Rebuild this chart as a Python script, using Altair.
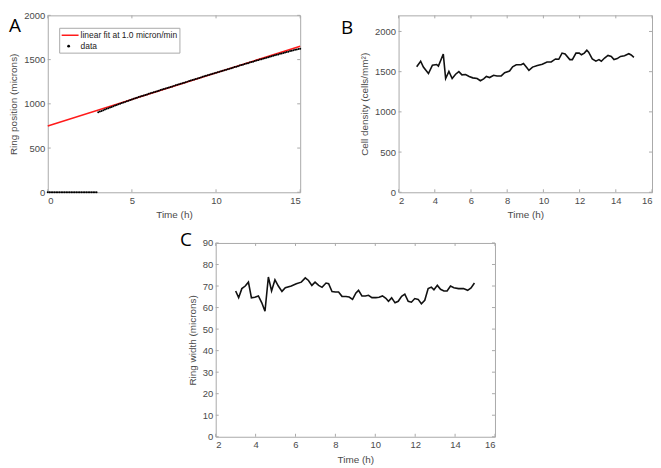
import altair as alt
import pandas as pd

FONT = "Liberation Sans"
TXT = "#4a4a4a"
BOX = "#a9a9a9"

# ---------------- Panel A : ring position ----------------
fit_time = [0, 15]
fit_pos = [750, 1650]
fit_label = "linear fit at 1.0 micron/min"
data_label = "data"

a_time = [round(0.1 * i, 1) for i in range(151)]  # sampling grid 0.0 .. 15.0 h
a_pos = [0] * 30 + [
    905, 913, 920, 928, 935, 943, 950, 958, 965, 973,
    980, 987, 994, 1001, 1008, 1015, 1022, 1029, 1036, 1043,
    1050, 1058, 1063, 1070, 1076, 1082, 1088, 1094, 1101, 1106,
    1113, 1119, 1124, 1131, 1137, 1143, 1149, 1155, 1161, 1167,
    1173, 1179, 1185, 1191, 1197, 1203, 1209, 1215, 1221, 1227,
    1233, 1239, 1245, 1251, 1257, 1263, 1269, 1275, 1281, 1287,
    1293, 1299, 1305, 1311, 1317, 1322, 1328, 1334, 1340, 1346,
    1351, 1357, 1363, 1368, 1374, 1380, 1386, 1391, 1397, 1403,
    1409, 1415, 1420, 1426, 1432, 1438, 1443, 1449, 1455, 1460,
    1466, 1472, 1477, 1483, 1489, 1494, 1500, 1505, 1511, 1516,
    1522, 1527, 1533, 1538, 1543, 1549, 1554, 1559, 1565, 1570,
    1575, 1580, 1585, 1590, 1596, 1601, 1606, 1611, 1615, 1620,
    1624,
]
a_xticks = [0, 5, 10, 15]
a_yticks = [0, 500, 1000, 1500, 2000]

# ---------------- Panel B : cell density ----------------
b_time = [3.0, 3.22, 3.37, 3.65, 3.87, 4.1, 4.2, 4.47, 4.6, 4.78, 4.96, 5.15, 5.33,
          5.5, 5.7, 5.9, 6.1, 6.34, 6.52, 6.7, 6.85, 7.03, 7.25, 7.44, 7.67, 7.86,
          8.13, 8.3, 8.5, 8.77, 8.9, 9.1, 9.2, 9.4, 9.67, 9.94, 10.2, 10.43, 10.67,
          10.85, 11.03, 11.2, 11.46, 11.6, 11.8, 11.98, 12.1, 12.26, 12.4, 12.5,
          12.7, 12.9, 13.07, 13.2, 13.38, 13.57, 13.75, 13.9, 14.08, 14.26, 14.48,
          14.72, 14.85, 15.0]
b_density = [1561, 1630, 1557, 1476, 1581, 1589, 1569, 1719, 1415, 1504, 1415, 1468,
             1500, 1460, 1464, 1440, 1423, 1415, 1387, 1411, 1440, 1427, 1455, 1447,
             1447, 1488, 1508, 1561, 1585, 1585, 1600, 1545, 1516, 1557, 1577, 1593,
             1621, 1621, 1658, 1654, 1731, 1719, 1650, 1650, 1731, 1731, 1710, 1731,
             1767, 1743, 1658, 1630, 1650, 1630, 1670, 1702, 1690, 1650, 1662, 1690,
             1698, 1723, 1707, 1678]
b_xticks = [2, 4, 6, 8, 10, 12, 14, 16]
b_yticks = [0, 500, 1000, 1500, 2000]

# ---------------- Panel C : ring width ----------------
c_time = [3.0, 3.15, 3.31, 3.48, 3.64, 3.79, 3.96, 4.14, 4.31, 4.47, 4.64, 4.8, 4.97,
          5.14, 5.32, 5.49, 5.79, 6.04, 6.29, 6.49, 6.65, 6.82, 6.98, 7.16, 7.33,
          7.53, 7.66, 7.83, 8.0, 8.16, 8.33, 8.53, 8.69, 8.86, 9.03, 9.16, 9.33, 9.5,
          9.66, 9.83, 10.03, 10.19, 10.36, 10.53, 10.66, 10.82, 10.99, 11.15, 11.32,
          11.48, 11.65, 11.81, 11.98, 12.15, 12.31, 12.48, 12.65, 12.81, 12.94,
          13.11, 13.27, 13.44, 13.6, 13.77, 13.94, 14.17, 14.42, 14.63, 14.8, 14.97]
c_width = [67.7, 64.6, 68.8, 70.0, 71.8, 64.5, 64.8, 65.4, 62.2, 58.3, 74.2, 67.7,
           72.9, 70.0, 67.5, 69.2, 70.0, 71.1, 71.8, 73.8, 72.6, 70.3, 71.8, 70.3,
           69.4, 71.4, 71.1, 67.4, 67.2, 67.2, 65.2, 65.1, 64.9, 63.8, 66.8, 68.0,
           65.4, 65.4, 65.7, 64.6, 64.6, 64.8, 65.4, 64.3, 62.9, 64.5, 62.2, 62.9,
           65.2, 66.2, 62.9, 62.5, 64.2, 63.8, 61.8, 63.4, 68.8, 69.5, 68.3, 70.3,
           68.5, 67.7, 67.7, 70.0, 69.2, 68.8, 68.8, 68.0, 69.1, 71.4]
c_xticks = [2, 4, 6, 8, 10, 12, 14, 16]
c_yticks = [0, 10, 20, 30, 40, 50, 60, 70, 80, 90]

ONE = pd.DataFrame({"k": [0]})


def enc_x(dom, ticks, title):
    return alt.X("t:Q", scale=alt.Scale(domain=dom, nice=False, zero=False),
                 axis=alt.Axis(values=ticks, title=title, format="d"))


def enc_y(dom, ticks, title):
    return alt.Y("v:Q", scale=alt.Scale(domain=dom, nice=False, zero=False),
                 axis=alt.Axis(values=ticks, title=title, format="d"))


def inward_ticks(xe, ye, xticks, yticks, w, h, L=3):
    xt = pd.DataFrame({"t": xticks})
    yt = pd.DataFrame({"v": yticks})
    r = dict(color=BOX, strokeWidth=1)
    return [
        alt.Chart(xt).mark_rule(**r).encode(x=xe, y=alt.value(h), y2=alt.value(h - L)),
        alt.Chart(xt).mark_rule(**r).encode(x=xe, y=alt.value(0), y2=alt.value(L)),
        alt.Chart(yt).mark_rule(**r).encode(y=ye, x=alt.value(0), x2=alt.value(L)),
        alt.Chart(yt).mark_rule(**r).encode(y=ye, x=alt.value(w), x2=alt.value(w - L)),
    ]


def letter(ch, x, y):
    return alt.Chart(ONE).mark_text(text=ch, align="left", baseline="top", font="Open Sans",
                                    fontSize=19, color="black").encode(
        x=alt.value(x), y=alt.value(y))


# ---- Panel A
WA, HA = 254, 178
xa = enc_x([0, 15], a_xticks, "Time (h)")
ya = enc_y([0, 2000], a_yticks, "Ring position (microns)")
fit_df = pd.DataFrame({"t": fit_time, "v": fit_pos})
a_df = pd.DataFrame({"t": a_time, "v": a_pos})
fit_line = alt.Chart(fit_df).mark_line(color="#ff1a1a", strokeWidth=1.5).encode(x=xa, y=ya)
a_pts = alt.Chart(a_df).mark_circle(size=4, color="black", opacity=1).encode(x=xa, y=ya)
leg_box = alt.Chart(ONE).mark_rect(fill="white", stroke=BOX, strokeWidth=1).encode(
    x=alt.value(12), x2=alt.value(133), y=alt.value(13), y2=alt.value(38))
leg_line = alt.Chart(ONE).mark_rule(color="#ff1a1a", strokeWidth=1.5).encode(
    x=alt.value(14), x2=alt.value(31), y=alt.value(20))
leg_dot = alt.Chart(ONE).mark_circle(size=8, color="black", opacity=1).encode(
    x=alt.value(21), y=alt.value(31))
leg_t1 = alt.Chart(ONE).mark_text(text=fit_label, align="left", baseline="middle", font=FONT,
                                  fontSize=8.5, color="#222").encode(x=alt.value(33), y=alt.value(20))
leg_t2 = alt.Chart(ONE).mark_text(text=data_label, align="left", baseline="middle", font=FONT,
                                  fontSize=8.5, color="#222").encode(x=alt.value(33), y=alt.value(31))
panel_a = alt.layer(
    *inward_ticks(xa, ya, a_xticks, a_yticks, WA, HA),
    fit_line, a_pts, leg_box, leg_line, leg_dot, leg_t1, leg_t2,
    letter("A", -39, 2),
).properties(width=WA, height=HA)

# ---- Panel B
WB, HB = 255, 178
xb = enc_x([2, 16], b_xticks, "Time (h)")
yb = enc_y([0, 2200], b_yticks, "Cell density (cells/mm²)")
b_df = pd.DataFrame({"t": b_time, "v": b_density})
panel_b = alt.layer(
    *inward_ticks(xb, yb, b_xticks, b_yticks, WB, HB),
    alt.Chart(b_df).mark_line(color="#111", strokeWidth=1.6).encode(x=xb, y=yb),
    letter("B", -58, 4),
).properties(width=WB, height=HB)

# ---- Panel C
WC, HC = 281, 195
xc = enc_x([2, 16], c_xticks, "Time (h)")
yc = enc_y([0, 90], c_yticks, "Ring width (microns)")
c_df = pd.DataFrame({"t": c_time, "v": c_width})
panel_c = alt.layer(
    *inward_ticks(xc, yc, c_xticks, c_yticks, WC, HC),
    alt.Chart(c_df).mark_line(color="#111", strokeWidth=1.6).encode(x=xc, y=yc),
    letter("C", -36, -12),
).properties(width=WC, height=HC)

spacer = alt.Chart(ONE).mark_point(opacity=0).encode(
    x=alt.value(0), y=alt.value(0)
).properties(width=1, height=1, view=alt.ViewBackground(stroke="transparent"))

row1 = alt.hconcat(panel_a, panel_b, spacing=99, bounds="flush")
row2 = alt.hconcat(spacer, panel_c, spacing=168, bounds="flush")

chart = alt.vconcat(row1, row2, spacing=10).properties(
    padding=0
).configure_view(
    stroke=BOX, strokeWidth=1
).configure_axis(
    grid=False, domain=False, ticks=False,
    labelFont=FONT, labelFontSize=9.5, labelColor=TXT, labelPadding=3,
    titleFont=FONT, titleFontSize=10, titleFontWeight="normal", titleColor=TXT,
    titlePadding=5,
)

chart.save("out.html", embed_options={"renderer": "svg", "actions": False})
